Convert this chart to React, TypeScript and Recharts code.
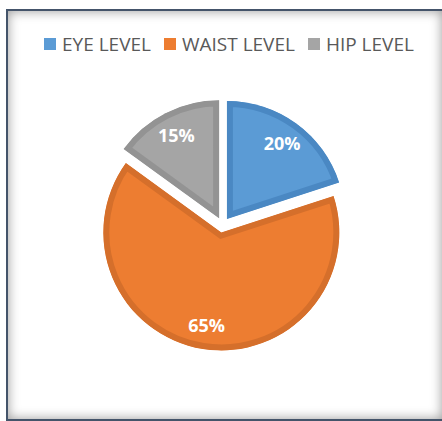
import React from 'react';
import { PieChart, Pie, Cell, Sector, Legend } from 'recharts';

const categories = ['EYE LEVEL', 'WAIST LEVEL', 'HIP LEVEL'];
const shares = [20, 65, 15];
const fills = ['#5b9bd5', '#ed7d31', '#a5a5a5'];
const edges = ['#4a88c3', '#d56f2b', '#939393'];

const data = categories.map((name, i) => ({ name, value: shares[i] }));

const EXPLODE = 7.5;
const RAD = Math.PI / 180;

const shift = (cx: number, cy: number, midAngle: number, d: number) => ({
    x: cx + d * Math.cos(-midAngle * RAD),
    y: cy + d * Math.sin(-midAngle * RAD),
});

// slice pulled out from the centre, with a darker border drawn on the inside
const ExplodedSlice = (props: any) => {
    const { cx, cy, midAngle, outerRadius, startAngle, endAngle, fill, name } = props;
    const p = shift(cx, cy, midAngle, EXPLODE);
    const i = categories.indexOf(name);
    const id = `clip-slice-${i}`;
    return (
        <g>
            <defs>
                <clipPath id={id}>
                    <Sector cx={p.x} cy={p.y} innerRadius={0} outerRadius={outerRadius} startAngle={startAngle} endAngle={endAngle} />
                </clipPath>
            </defs>
            <Sector
                cx={p.x}
                cy={p.y}
                innerRadius={0}
                outerRadius={outerRadius}
                startAngle={startAngle}
                endAngle={endAngle}
                fill={fill}
                stroke={edges[i]}
                strokeWidth={12}
                clipPath={`url(#${id})`}
            />
        </g>
    );
};

const renderLabel = (props: any) => {
    const { cx, cy, midAngle, percent } = props;
    const p = shift(cx, cy, midAngle, EXPLODE + 94);
    return (
        <text x={p.x} y={p.y} fill="#ffffff" textAnchor="middle" dominantBaseline="central"
            fontFamily="'Open Sans', sans-serif" fontWeight={700} fontSize={18}>
            {`${Math.round(percent * 100)}%`}
        </text>
    );
};

const renderLegend = () => (
    <div style={{ display: 'flex', alignItems: 'center', fontFamily: "'Open Sans', sans-serif", fontSize: 19, lineHeight: '24px', color: '#595959' }}>
        {categories.map((c, i) => (
            <div key={c} style={{ display: 'flex', alignItems: 'center', marginRight: 13 }}>
                <span style={{ display: 'inline-block', width: 12, height: 12, background: fills[i], marginRight: 6 }} />
                <span>{c}</span>
            </div>
        ))}
    </div>
);

export default function App() {
    return (
        <div style={{ position: 'absolute', left: 0, top: 0, width: 442, height: 421, overflow: 'hidden', background: '#ffffff' }}>
            <div style={{
                position: 'absolute', left: 6, top: 9, width: 436, height: 412, boxSizing: 'border-box',
                borderLeft: '2px solid #44546a', borderTop: '2px solid #44546a', borderBottom: '2px solid #44546a',
                boxShadow: 'inset 0 0 12px rgba(0,0,0,0.4)',
            }} />
            <div style={{ position: 'absolute', left: 0, top: 0 }}>
                <PieChart width={442} height={421} margin={{ top: 0, right: 0, bottom: 0, left: 0 }}>
                    <Legend content={renderLegend} wrapperStyle={{ position: 'absolute', top: 32, left: 44, width: 'auto' }} />
                    <Pie
                        data={data}
                        dataKey="value"
                        nameKey="name"
                        cx={222.5}
                        cy={225}
                        outerRadius={118}
                        startAngle={90}
                        endAngle={-270}
                        stroke="none"
                        shape={ExplodedSlice}
                        label={renderLabel}
                        labelLine={false}
                        isAnimationActive={false}
                    >
                        {data.map((d, i) => (
                            <Cell key={d.name} fill={fills[i]} />
                        ))}
                    </Pie>
                </PieChart>
            </div>
        </div>
    );
}
